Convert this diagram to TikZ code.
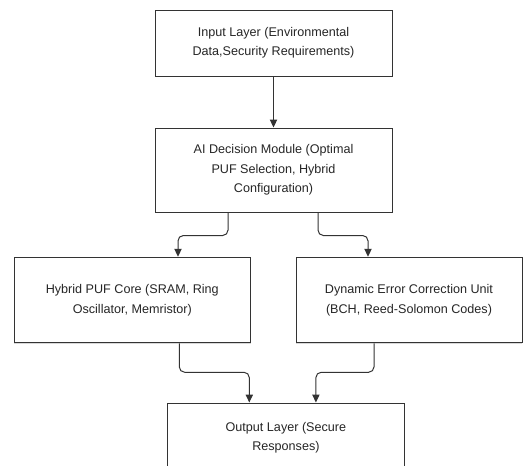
\documentclass[tikz,border=0pt]{standalone}
\usepackage{fontspec}
\setmainfont{Liberation Sans}
\usetikzlibrary{calc,arrows.meta,shadows}
\definecolor{edge}{HTML}{333333}
\tikzset{
  box/.style={draw=edge, line width=0.75pt, fill=white, align=center, inner sep=0pt,
    font=\fontsize{9.45}{14.6}\selectfont, text=black!85,
    drop shadow={shadow xshift=0.3pt, shadow yshift=-0.6pt, fill=black!25, opacity=0.6}},
  arr/.style={draw=edge, line width=0.75pt, rounded corners=4pt, -{Triangle[length=6pt,width=5.5pt]}}
}
\begin{document}
\begin{tikzpicture}[x=0.75pt,y=-0.75pt]
\useasboundingbox (0,0) rectangle (523,465);
\clip (0,0) rectangle (523,465);
\fill[white] (0,0) rectangle (523,465);
\node[box, minimum width=0.75*237pt, minimum height=0.75*66pt] (in) at (273.5,43)
  {Input Layer (Environmental\\Data,Security Requirements)};
\node[box, minimum width=0.75*237pt, minimum height=0.75*84pt] (ai) at (273.5,170)
  {AI Decision Module (Optimal\\PUF Selection, Hybrid\\Configuration)};
\node[box, minimum width=0.75*236.5pt, minimum height=0.75*85.5pt] (hyb) at (132.3,300)
  {Hybrid PUF Core (SRAM, Ring\\Oscillator, Memristor)};
\node[box, minimum width=0.75*226pt, minimum height=0.75*85.5pt] (dyn) at (409,300)
  {Dynamic Error Correction Unit\\(BCH, Reed-Solomon Codes)};
\node[box, minimum width=0.75*237.7pt, minimum height=0.75*69pt] (out) at (285.9,437.5)
  {Output Layer (Secure\\Responses)};
\draw[arr] (in) -- (ai);
\draw[arr] ($(ai.south)+(-45.5,0)$) -- ++(0,23) -| ($(hyb.north)+(45.7,0)$);
\draw[arr] ($(ai.south)+(44.5,0)$) -- ++(0,23) -| ($(dyn.north)+(-41,0)$);
\draw[arr] ($(hyb.south)+(47,0)$) -- ++(0,29) -| ($(out.north)+(-36.6,0)$);
\draw[arr] ($(dyn.south)+(-35,0)$) -- ++(0,29) -| ($(out.north)+(30,0)$);
\end{tikzpicture}
\end{document}
